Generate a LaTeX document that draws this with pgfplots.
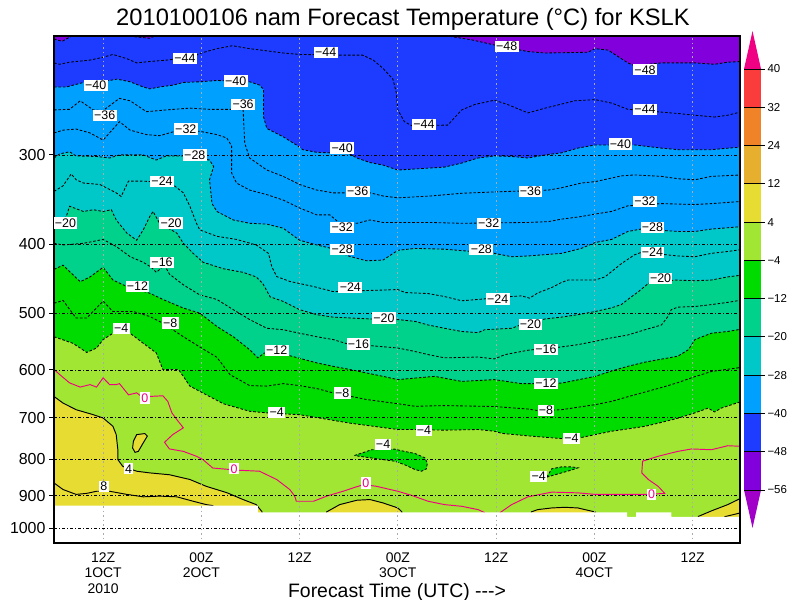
\documentclass[border=0pt]{standalone}
\usepackage{fontspec}
\setmainfont{Liberation Sans}
\usepackage{pgfplots}
\usepackage{pgfplotstable}
\pgfplotsset{compat=1.18}

\definecolor{c14}{RGB}{160,0,200}
\definecolor{c9}{RGB}{130,0,220}
\definecolor{c4}{RGB}{30,60,255}
\definecolor{c11}{RGB}{0,160,255}
\definecolor{c5}{RGB}{0,200,200}
\definecolor{c13}{RGB}{0,210,140}
\definecolor{c3}{RGB}{0,220,0}
\definecolor{c10}{RGB}{160,230,50}
\definecolor{c7}{RGB}{230,220,50}
\definecolor{c12}{RGB}{230,175,45}
\definecolor{c8}{RGB}{240,130,40}
\definecolor{c2}{RGB}{250,60,60}
\definecolor{c6}{RGB}{240,0,130}
\definecolor{gridgray}{RGB}{170,170,170}

\tikzset{
  isoneg/.style={draw=black, line width=0.85bp, dash pattern=on 2.6bp off 1.8bp},
  isopos/.style={draw=black, line width=0.95bp},
  isozer/.style={draw=c6, line width=0.95bp},
}

% isotherms: forecast hour, pressure (hPa)
\pgfplotstableread{
h p
0 206.5
1 208
2 205
2.5 203
9.3 203
9.9 205
11.7 206
12.9 203
47 203
48.1 204.5
51 207
53.8 210.5
57.9 215
60 216
65.2 215.5
66.1 213
67.7 214
68.5 217
70.1 223
70.9 225
74.2 223
78.3 223
80.7 224
82.3 222.5
84 222
}\Tmfortyeight
\pgfplotstableread{
h p
0 223
0.7 224
1.9 222.5
4.4 221
6 219
7.2 217
8.9 220
10.1 223
11.7 222
13.8 221
17 218.5
18 216
19.9 213
21.8 211
23.9 213
26 214.5
28 216
30 217
34.9 217.5
37.7 217.5
39 221
40.2 227
41.4 235
41.8 245
42 259.5
42.8 269.5
43.7 273
48.1 272.5
49.8 259.5
51.4 255
53.8 251.5
55.4 255
57.9 262
60 258
63.6 252
66.1 251
68.2 254
70.1 259
76.2 262.5
78.3 264
80.7 265.5
82.3 264
84 261
}\Tmfortyfour
\pgfplotstableread{
h p
0 241
1.5 241
3.6 237.5
6.8 236
7.7 235
9.3 237
10.9 241
11.7 242.5
12.9 241
14.6 239.5
15.8 237.5
17.8 237
19.9 236
23.9 237
25.1 239.5
25.6 243
25.6 265.5
26 275.5
28 283
29.6 290.5
30.4 295
32.1 297.5
33.7 298
36.1 299
37 303
38.6 307.5
40.2 310
42 315
44.9 313.5
47.7 312
49.8 308
51.8 303
53.8 301
55.9 301.5
57.9 303
60 300
62 298
64 293.5
66.1 290.5
70.9 290.5
74.2 293.5
76.3 295
80.3 295
82.4 293.5
84 292.5
}\Tmforty
\pgfplotstableread{
h p
0 259.5
1.9 259
3.2 252
4.8 259.5
6 260
8 250
9.3 252
11.3 261
13.7 259.5
16.6 258
19 259
21.7 259
23.1 259.5
23.3 289
23.9 303
26 315
28 321.5
30 330
32.1 336
34.1 339
38.6 339
40.2 342.5
42 344.5
46 342.5
49.8 339.5
53.8 338
60.4 336
62 333.5
64.4 328.5
66.1 327
69.3 321
70.9 320
74.2 321.5
76.3 324
78.3 325
80.3 321.5
84 320
}\Tmthirtysix
\pgfplotstableread{
h p
0 279.5
1.1 277
2.7 276
4.4 279.5
6 286
7.7 272
8 269.5
9.3 277
11.3 281
12.9 282
14.8 278
17.8 278
19.9 281
21.1 284
21.7 291.5
21.7 318
22.3 328.5
23.9 336
26 341
28 347
30 356
32.1 364
33.7 364
34.9 374
37 374
38.6 370
40.2 373
46 373
49.8 374
57.9 373
60.4 372
62 369
64.4 366
66.1 363
68.1 360
70.1 353.5
74.2 351
78.3 352
80.3 351
84 348.5
}\Tmthirtytwo
\pgfplotstableread{
h p
0 303
0.7 299
1.9 297
2.7 301
5.2 301.5
6.8 303
8 300
10.9 300
12.5 305
13.7 301
15.8 301
19 305
19.5 311.5
19 325
19.3 351
19.9 360
21.9 370
23.9 374
26 375
28 380
30 395
32.1 401
33.7 405
36.1 416
38.2 422
40.2 421
42 408
44.1 405.5
47.7 406.5
53.8 412
55.9 416.5
57.9 415.5
62 412
64.4 405.5
66.1 398
68.1 394
70.1 384
71.7 381
76.3 384
78.3 384
80.3 381
84 378
}\Tmtwentyeight
\pgfplotstableread{
h p
0 337.5
1.1 331.5
2.1 319
2.7 325
3.6 328.5
5.6 330
7.6 339
8.2 343
9.1 326.5
10.9 326.5
12.9 327.5
14.5 330
15.8 339
16.6 354
17.4 374
17.8 382
19.9 390
22.3 394
24.7 401
26.2 412
26.6 430
27.2 444
28.8 451
31.7 458.5
34.1 466
38.2 464.5
42 463
42.9 467.5
45.7 469
47.7 473.5
49.8 480
51.8 478
55.9 473.5
57.1 472.5
58.1 476
59.1 468
60.8 460
62 452.5
62.8 449
66.1 449
67.3 444.5
69.3 426
70.9 414
71.8 410.5
76.2 415.5
78.3 416.5
80.3 412
82.3 409.5
84 407
}\Tmtwentyfour
\pgfplotstableread{
h p
0 379
1.5 366
1.9 354
3.6 360
4.8 358
6 360
7 358
7.6 370
8.9 386
10.1 395
10.9 382
11.7 366
12.1 360
12.9 374
15 386
15.8 399
17 412
18.2 424
20.7 433
23.1 438
24.7 444.5
25.5 454
26.4 474
28 481
30 494
32.1 502
34.1 506
38.6 509
42 510
44.1 513
45.7 519
47.7 524.5
49.8 530
51.8 532
52.6 527
55.9 524.5
57 519
60 509
62 506
64 502
66.1 497
68.1 491
69.3 486
70.1 478
71.4 466
72.6 454
75.9 449
78.3 450
80.3 449
82.3 444.5
84 442
}\Tmtwenty
\pgfplotstableread{
h p
0 399
1.1 401
3.6 399
6 394
7.6 403
9.3 416.5
10.9 424
11.9 431
12.5 438
13.5 428
14.1 440.5
15.8 456
17.8 471
19.9 478
21.9 494
23.9 510
26 524.5
28 527
30 533
32.1 539
34.1 544
35.7 551
42 559
44 565
45.7 571
47.7 577
51.8 575.5
53.8 579
55.1 571
57.9 563
62 557
64 553
66.1 547
68.1 541
70.1 536
72.2 527
74.2 519
75 505
75.4 494
76.2 490
78.3 489
80.3 486
82.3 482.5
84 479
}\Tmsixteen
\pgfplotstableread{
h p
0 434
1.1 428
3.2 451.5
4.4 444.5
6 431
7.2 449
8.9 458.5
11.7 468.5
13.3 478
15.8 491.5
17.8 499.5
19.9 521.5
21.9 539
23.9 562
24.9 577
25.7 568
28.8 573
32.1 586.5
34.1 593
36.1 599
40.2 612.5
42 619
44 616
46.5 612.5
49.8 622.5
53.8 619
57.1 627
58.7 627
62 626
66.1 612.5
68.1 602
70.1 593
72.2 585
76.2 574
77.5 562
78.3 544
80.3 533
82.3 530
84 526
}\Tmtwelve
\pgfplotstableread{
h p
0 484
1.1 479.5
2.7 507.5
4 507.5
6 480.5
7.2 497
9.7 497
11.7 505
13.3 516
15.8 539
17.8 557
19.9 576
21.5 609
23.9 631
26 632
28 627
30 631
32.1 637
34.1 646
38.2 660
42 669
44.1 674.5
47.7 673
53.8 675
57.9 680.5
59.1 684
62 682
66.1 671
68.1 664
70.1 654
74.2 635
76.2 625
78.3 613
80.3 603
84 595
}\Tmeight
\pgfplotstableread{
h p
0 539
2.3 550.5
4 567
5.2 559
6 544
7.2 533
9.3 533
10.9 550.5
12.5 568
12.9 583.5
13.3 599
15.2 599
15.8 612.5
16.6 632
18.6 650
20.7 669
23.9 685.5
26 689
30 693
36.1 712
42 727
44.1 727
47.7 728.5
51.8 727
53.8 731
54.7 736
57.9 742
62 748.5
64.4 746
66.1 739
68.1 731
70.1 725.5
72.2 719.5
74.2 710.5
76.2 701
78.3 689
79.9 678.5
80.7 687
81.5 678.5
84 664
}\Tmfour
\pgfplotstableread{
h p
0 599
0.7 609
1.9 625.5
3.2 634
4.4 629
5.2 634
6 615.5
6.8 629
7.6 629
8 627
9.1 650
10.1 646
10.7 653.5
11.7 653.5
13.3 652
13.9 664
14.4 689
15 704
15.8 723
14.5 739
13.5 757.5
14.1 774
15.8 780
17.4 792.5
18.2 801
19.4 823
21.5 827
22.7 829
25.1 831.5
27.2 854
28.8 882
29.4 901
29.6 916
31.7 916
33.3 901
35.3 887
37.8 868
39.4 873
42 887
43.7 899
45.7 916
47.7 926
49.8 931
51.8 941
52.6 950
53 1000
54 1000
54.5 950
55.9 926
57.9 903
60.8 889.5
64 891.5
66.1 896
70.1 896
72.6 896
74.6 893
73.8 873
72.6 854
71.8 836
71.9 805
73.8 792.5
76.2 780
77.9 774
80.3 776
82.3 766
84 767.5
}\Tzero
\pgfplotstableread{
h p
0 653.5
1.1 667.5
2.7 682
4.8 693
6 700.5
7.2 719.5
7.6 739
7.8 776
7.8 801
8.4 818.5
10.1 831.5
11.7 836
14.1 841
16.6 854
18.6 873
21.1 891
23.1 911
24.7 926
25.4 947
25.6 1000
33.3 1000
33.3 948
34.9 926
37 913
38.6 911
40.2 921
42 936
42.5 948
42.6 1000
58.3 1000
58.3 948
59.1 941
60.8 936
62.4 934
64 936
65.2 943
66.1 948
66.2 1000
78.7 1000
78.7 962
80.3 945
82.3 926
84 906
}\Tpfour
\pgfplotstableread{
h p
0 863.5
1.1 882
2.7 896
4 893
5.2 887
6.8 887
8.9 896
10.9 903
12.9 901
15 903
17 916
18.6 926
19.4 929
19.6 1000
}\Tpeight
\pgfplotstableread{
h p
81.9 963
84 950
}\Tpeightb
% closed -4 and +4 contours
\pgfplotstableread{
h p
36.7 790.5
38.8 776
41.6 774.5
42.8 780
44.1 785.5
45.3 796.5
45.6 809.5
45.5 825
44.9 831.5
44.1 827
42.8 814
41.6 805
40.2 801
37.8 794
36.7 790.5
}\BlobA
\pgfplotstableread{
h p
60.2 847.5
60.8 825
62 820
63.2 820
64 822.5
63.2 828.5
62 836
60.8 843.5
60.2 847.5
}\BlobB
\pgfplotstableread{
h p
9.7 755
10.1 739
11.1 736.5
11.4 742.5
10.9 759
10.3 780
9.9 782.5
9.6 771.5
9.7 755
}\BlobC
% below-ground (missing data)
\pgfplotstableread{
h p
0 929
24.9 929
24.9 949.5
70 949.5
70 963
71.1 963
71.1 949.5
75.4 949.5
75.4 963
84 963
84 1100
0 1100
}\Ground
% contour labels
\pgfplotstableread{
h p lab
55.3 211.5 −48
72.2 228 −48
16 220 −44
33.2 215.5 −44
45.2 272 −44
72.2 259 −44
5.1 240 −40
22.2 236.5 −40
35.2 293.5 −40
69.2 289.5 −40
6.2 264 −36
23.1 255 −36
37.1 337.5 −36
58.2 337.5 −36
16.1 276 −32
35.2 379 −32
53.1 374 −32
72.2 348.5 −32
17.2 300 −28
35.2 407 −28
52.2 407 −28
73.1 379 −28
13.2 327 −24
36.2 460 −24
54.2 477.5 −24
73.1 410.5 −24
1.4 373.5 −20
14.3 373.5 −20
40.3 507.5 −20
58.2 518 −20
74.1 446.5 −20
13.2 424 −16
37.2 552 −16
60.1 562 −16
10.2 458.5 −12
27.2 563 −12
60.1 627 −12
14.2 516 −8
35.2 646 −8
60.1 684 −8
8.2 525 −4
27.2 688 −4
40.2 763 −4
45.2 728.5 −4
63.2 748.5 −4
59.2 846 −4
9.1 825 4
6.1 873 8
}\Lblack
\pgfplotstableread{
h p lab
11.1 657 0
22 825 0
38.1 863.5 0
73 896 0
}\Lzero

\begin{document}
\begin{tikzpicture}[x=1bp,y=1bp]
\path[use as bounding box] (0,0) rectangle (800,600);

\begin{axis}[
  at={(54bp,57bp)}, anchor=south west,
  scale only axis, width=686bp, height=507bp,
  xmin=0, xmax=83.8,
  ymode=log, ymin=204.5, ymax=1048, y dir=reverse,
  axis on top,
  axis line style={line width=2.2bp},
  tick align=outside, major tick length=5bp,
  ytick={300,400,500,600,700,800,900,1000},
  yticklabels={300,400,500,600,700,800,900,1000},
  ytick pos=left,
  ytick style={black, line width=1bp},
  yticklabel style={font=\fontsize{16}{16}\selectfont},
  xtick={6,18,30,42,54,66,78},
  xticklabels={{12Z\\1OCT\\2010},{00Z\\2OCT},{12Z},{00Z\\3OCT},{12Z},{00Z\\4OCT},{12Z}},
  xtick style={draw=none},
  xticklabel style={align=center, font=\fontsize{14}{15.5}\selectfont, yshift=-1bp},
  minor tick num=0,
]
% colour bands (each fills from its isotherm down to the ground)
\addplot[fill=c9, draw=none] coordinates {(0,180)(84,180)(84,1100)(0,1100)};
\addplot[fill=c4, draw=none] table[x=h,y=p] {\Tmfortyeight} -- (axis cs:84,1100) -- (axis cs:0,1100) -- cycle;
\addplot[fill=c11, draw=none] table[x=h,y=p] {\Tmforty} -- (axis cs:84,1100) -- (axis cs:0,1100) -- cycle;
\addplot[fill=c5, draw=none] table[x=h,y=p] {\Tmtwentyeight} -- (axis cs:84,1100) -- (axis cs:0,1100) -- cycle;
\addplot[fill=c13, draw=none] table[x=h,y=p] {\Tmtwenty} -- (axis cs:84,1100) -- (axis cs:0,1100) -- cycle;
\addplot[fill=c3, draw=none] table[x=h,y=p] {\Tmtwelve} -- (axis cs:84,1100) -- (axis cs:0,1100) -- cycle;
\addplot[fill=c10, draw=none] table[x=h,y=p] {\Tmfour} -- (axis cs:84,1100) -- (axis cs:0,1100) -- cycle;
\addplot[fill=c7, draw=none] table[x=h,y=p] {\Tpfour} -- (axis cs:84,1100) -- (axis cs:0,1100) -- cycle;
\addplot[isoneg, fill=c3] table[x=h,y=p] {\BlobA};
\addplot[isoneg, fill=c3] table[x=h,y=p] {\BlobB};
\addplot[isopos, fill=c7] table[x=h,y=p] {\BlobC};
% contour lines
\addplot[isoneg] table[x=h,y=p] {\Tmfortyeight};
\addplot[isoneg] table[x=h,y=p] {\Tmfortyfour};
\addplot[isoneg] table[x=h,y=p] {\Tmforty};
\addplot[isoneg] table[x=h,y=p] {\Tmthirtysix};
\addplot[isoneg] table[x=h,y=p] {\Tmthirtytwo};
\addplot[isoneg] table[x=h,y=p] {\Tmtwentyeight};
\addplot[isoneg] table[x=h,y=p] {\Tmtwentyfour};
\addplot[isoneg] table[x=h,y=p] {\Tmtwenty};
\addplot[isoneg] table[x=h,y=p] {\Tmsixteen};
\addplot[isoneg] table[x=h,y=p] {\Tmtwelve};
\addplot[isoneg] table[x=h,y=p] {\Tmeight};
\addplot[isoneg] table[x=h,y=p] {\Tmfour};
\addplot[isozer] table[x=h,y=p] {\Tzero};
\addplot[isopos] table[x=h,y=p] {\Tpfour};
\addplot[isopos] table[x=h,y=p] {\Tpeight};
\addplot[isopos] table[x=h,y=p] {\Tpeightb};
% below ground
\addplot[fill=white, draw=none] table[x=h,y=p] {\Ground};
% grid
\pgfplotsinvokeforeach{300,400,500,600,700,800,900,1000}{
  \addplot[black, line width=0.8bp, dash pattern=on 3bp off 2bp on 1bp off 2bp] coordinates {(0,#1)(84,#1)};
}
\pgfplotsinvokeforeach{6,18,30,42,54,66,78}{
  \addplot[gridgray, line width=0.9bp, dash pattern=on 1.5bp off 3bp] coordinates {(#1,200)(#1,1100)};
}
% labels
\addplot[only marks, mark=none, nodes near coords, point meta=explicit symbolic,
  nodes near coords align={center},
  nodes near coords style={fill=white, inner sep=1.3bp, text=black, font=\fontsize{12.5}{12.5}\selectfont}]
  table[x=h,y=p,meta=lab] {\Lblack};
\addplot[only marks, mark=none, nodes near coords, point meta=explicit symbolic,
  nodes near coords align={center},
  nodes near coords style={fill=white, inner sep=1.3bp, text=c6, font=\fontsize{12.5}{12.5}\selectfont}]
  table[x=h,y=p,meta=lab] {\Lzero};
\end{axis}

% colour bar
\begin{axis}[
  at={(744bp,110bp)}, anchor=south west,
  scale only axis, width=17bp, height=421bp,
  xmin=0, xmax=1, ymin=0, ymax=11,
  clip=false,
  axis line style={draw=none},
  xtick=\empty,
  ytick={0,1,2,3,4,5,6,7,8,9,10,11},
  yticklabels={−56,−48,−40,−28,−20,−12,−4,4,12,24,32,40},
  yticklabel pos=right,
  major tick length=0pt, tick style={draw=none},
  yticklabel style={font=\fontsize{11.5}{11.5}\selectfont, xshift=3bp},
]
\addplot[fill=c14, draw=none] coordinates {(0,0)(1,0)(0.5,-0.99)};
\addplot[fill=c9, draw=none] coordinates {(0,0)(1,0)(1,1)(0,1)};
\addplot[fill=c4, draw=none] coordinates {(0,1)(1,1)(1,2)(0,2)};
\addplot[fill=c11, draw=none] coordinates {(0,2)(1,2)(1,3)(0,3)};
\addplot[fill=c5, draw=none] coordinates {(0,3)(1,3)(1,4)(0,4)};
\addplot[fill=c13, draw=none] coordinates {(0,4)(1,4)(1,5)(0,5)};
\addplot[fill=c3, draw=none] coordinates {(0,5)(1,5)(1,6)(0,6)};
\addplot[fill=c10, draw=none] coordinates {(0,6)(1,6)(1,7)(0,7)};
\addplot[fill=c7, draw=none] coordinates {(0,7)(1,7)(1,8)(0,8)};
\addplot[fill=c12, draw=none] coordinates {(0,8)(1,8)(1,9)(0,9)};
\addplot[fill=c8, draw=none] coordinates {(0,9)(1,9)(1,10)(0,10)};
\addplot[fill=c2, draw=none] coordinates {(0,10)(1,10)(1,11)(0,11)};
\addplot[fill=c6, draw=none] coordinates {(0,11)(1,11)(0.5,11.99)};
\pgfplotsinvokeforeach{0,1,2,3,4,5,6,7,8,9,10,11}{
  \addplot[black, line width=0.9bp] coordinates {(0,#1)(1.25,#1)};
}
\end{axis}

\node[font=\fontsize{23.8}{23.8}\selectfont] at (403,581) {2010100106 nam Forecast Temperature (°C) for KSLK};
\node[font=\fontsize{19.5}{19.5}\selectfont] at (397,8) {Forecast Time (UTC) -{}-{}->};
\end{tikzpicture}
\end{document}
